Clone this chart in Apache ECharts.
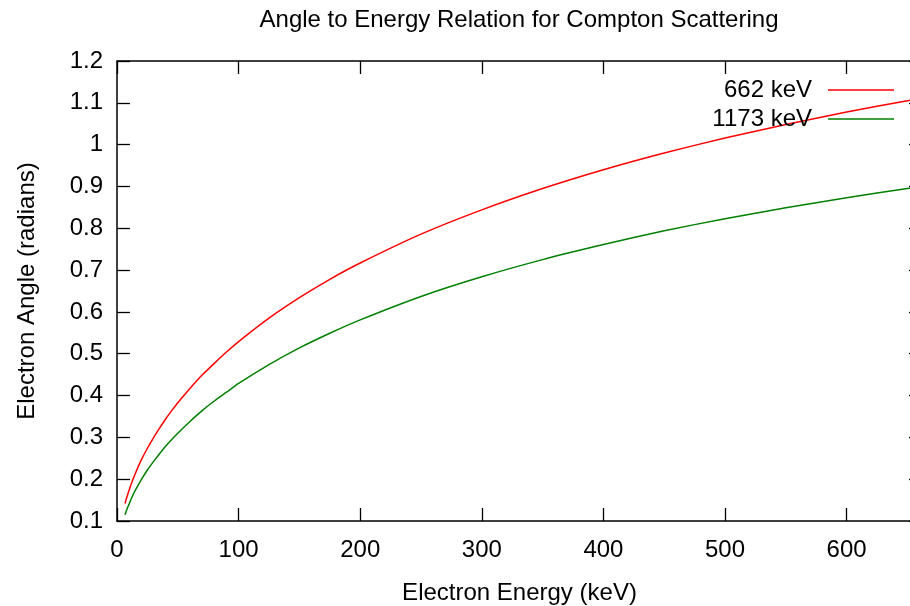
<!DOCTYPE html>
<html>
<head>
<meta charset="utf-8">
<script src="https://cdn.jsdelivr.net/npm/echarts@6/dist/echarts.min.js"></script>
<style>html,body{margin:0;padding:0;background:#fff;overflow:hidden;width:910px;height:606px}#c{width:940px;height:606px}</style>
</head>
<body>
<div id="c"></div>
<script>
// Electron energy (keV) sample positions
const energy = [6.6, 8, 10, 12, 15, 20, 25, 30, 35, 40, 45, 50, 60, 70, 80, 90, 100, 125, 150, 175, 200, 250, 300, 350, 400, 450, 500, 550, 600, 650, 662];
// Electron angle (radians), 662 keV curve
const angle662 = [0.142, 0.156, 0.174, 0.191, 0.213, 0.246, 0.274, 0.299, 0.322, 0.344, 0.364, 0.383, 0.417, 0.449, 0.477, 0.504, 0.529, 0.585, 0.634, 0.678, 0.717, 0.786, 0.844, 0.895, 0.940, 0.980, 1.016, 1.048, 1.078, 1.105, 1.111];
// Electron angle (radians), 1173 keV curve
const angle1173 = [0.115, 0.127, 0.141, 0.155, 0.173, 0.199, 0.222, 0.242, 0.261, 0.279, 0.295, 0.310, 0.338, 0.364, 0.387, 0.408, 0.429, 0.474, 0.514, 0.549, 0.581, 0.637, 0.684, 0.725, 0.761, 0.794, 0.823, 0.849, 0.873, 0.895, 0.900];
const seriesNames = ['662 keV', '1173 keV'];
const xTicks = [0, 100, 200, 300, 400, 500, 600];
const yTicks = ['0.1','0.2','0.3','0.4','0.5','0.6','0.7','0.8','0.9','1','1.1','1.2'];

const FONT = "'Liberation Sans', Arial, sans-serif";
const FS = 24;
const chart = echarts.init(document.getElementById('c'), null, {renderer: 'canvas'});

const mkLine = () => ({show: true, onZero: false, lineStyle: {color: '#000', width: 1.5}});
const mkTick = () => ({show: true, inside: true, length: 13, lineStyle: {color: '#000', width: 1.3}});

chart.setOption({
  animation: false,
  backgroundColor: '#fff',
  title: {
    text: 'Angle to Energy Relation for Compton Scattering',
    left: 514, top: 3, textAlign: 'center',
    textStyle: {fontFamily: FONT, fontSize: FS, fontWeight: 'normal', color: '#000'}
  },
  legend: {
    orient: 'vertical', right: 41, top: 73, align: 'right',
    icon: 'rect', itemWidth: 66, itemHeight: 1.6, itemGap: 5,
    textStyle: {fontFamily: FONT, fontSize: FS, color: '#000', padding: [0, 11, 0, 0]},
    data: seriesNames
  },
  grid: {left: 117, top: 61, width: 805, height: 460, containLabel: false, outerBoundsMode: 'none'},
  xAxis: [{
    type: 'value', min: 0, max: 662, interval: 100, position: 'bottom',
    name: 'Electron Energy (keV)', nameLocation: 'middle', nameGap: 60,
    nameTextStyle: {fontFamily: FONT, fontSize: FS, color: '#000'},
    axisLine: mkLine(), axisTick: mkTick(), splitLine: {show: false},
    axisLabel: {fontFamily: FONT, fontSize: FS, color: '#000', margin: 17, showMaxLabel: false,
      formatter: v => xTicks.includes(v) ? String(v) : ''}
  }, {
    type: 'value', min: 0, max: 662, interval: 100, position: 'top',
    axisLine: mkLine(), axisTick: mkTick(), axisLabel: {show: false}, splitLine: {show: false}
  }],
  yAxis: [{
    type: 'value', min: 0.1, max: 1.2, interval: 0.1, position: 'left',
    name: 'Electron Angle (radians)', nameLocation: 'middle', nameGap: 78,
    nameTextStyle: {fontFamily: FONT, fontSize: FS, color: '#000'},
    axisLine: mkLine(), axisTick: mkTick(), splitLine: {show: false},
    axisLabel: {fontFamily: FONT, fontSize: FS, color: '#000', margin: 14,
      formatter: v => { const i = Math.round(v * 10) - 1; return yTicks[i] || ''; }}
  }, {
    type: 'value', min: 0.1, max: 1.2, interval: 0.1, position: 'right',
    axisLine: mkLine(), axisTick: mkTick(), axisLabel: {show: false}, splitLine: {show: false}
  }],
  series: [{
    name: seriesNames[0], type: 'line', showSymbol: false, symbol: 'none', smooth: 0.2,
    lineStyle: {color: '#ff0000', width: 1.5}, itemStyle: {color: '#ff0000'},
    data: energy.map((e, i) => [e, angle662[i]])
  }, {
    name: seriesNames[1], type: 'line', showSymbol: false, symbol: 'none', smooth: 0.2,
    lineStyle: {color: '#008000', width: 1.5}, itemStyle: {color: '#008000'},
    data: energy.map((e, i) => [e, angle1173[i]])
  }]
});
</script>
</body>
</html>
